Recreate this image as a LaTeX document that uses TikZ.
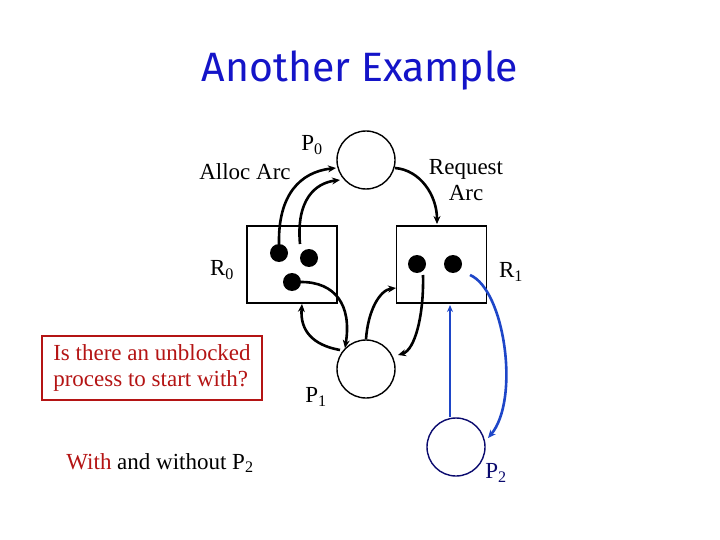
\documentclass[tikz,border=0pt]{standalone}
\usepackage{fontspec}
\setmainfont{Liberation Serif}
\newfontfamily\titlefont{Fira Sans}
\usetikzlibrary{arrows.meta}
\definecolor{tblue}{RGB}{20,20,200}
\definecolor{ablue}{RGB}{30,70,200}
\definecolor{navy}{RGB}{10,10,110}
\definecolor{dred}{RGB}{180,20,20}
\begin{document}
\begin{tikzpicture}[x=1pt,y=-1pt,
  proc/.style={circle,draw,line width=1.4pt,minimum size=58pt,inner sep=0},
  res/.style={draw,line width=1.4pt,minimum width=90pt,minimum height=77pt,inner sep=0},
  dot/.style={circle,fill,minimum size=18pt,inner sep=0},
  arc/.style={line width=2.6pt,-{Stealth[length=8pt,width=7pt]}},
  barc/.style={ablue,line width=2.6pt,-{Stealth[length=8pt,width=7pt]}},
  lbl/.style={font=\fontsize{23}{26}\selectfont,inner sep=0}]
\useasboundingbox (0,0) rectangle (720,540);
\node[font=\titlefont\fontsize{41}{45}\selectfont,text=tblue] (title) at (360,70) {Another Example};
\node[proc] (P0) at (366,160) {};
\node[proc] (P1) at (366,369) {};
\node[proc,draw=navy] (P2) at (456,447) {};
\node[res] (R0) at (292,264.5) {};
\node[res] (R1) at (441.5,264.5) {};
\node[dot] (d1) at (279,253) {};
\node[dot] (d2) at (309,258) {};
\node[dot] (d3) at (292,282) {};
\node[dot] (e1) at (417,264) {};
\node[dot] (e2) at (453,264) {};
\coordinate (a1) at (336,168);
\coordinate (a2) at (340,180);
\coordinate (a3) at (437,224);
\coordinate (a5) at (302,304);
\coordinate (a6) at (396,288);
\coordinate (a7) at (398,355);
\coordinate (b0) at (450,417);
\coordinate (b1) at (450,305);
\coordinate (b2) at (488,438);
\draw[arc] (d1.north) .. controls (278,195) and (300,172) .. (a1);
\draw[arc] (300,244) .. controls (296,200) and (315,183) .. (a2);
\draw[arc] (395,168) .. controls (420,170) and (437,195) .. (a3);
\draw[arc] (d3.east) .. controls (335,282) and (352,305) .. (P1.north west);
\draw[arc] (340,350) .. controls (312,345) and (300,330) .. (a5);
\draw[arc] (P1.north) .. controls (368,310) and (380,290) .. (a6);
\draw[arc] (423,275) .. controls (424,315) and (415,350) .. (a7);
\draw[ablue,line width=1.6pt,-{Stealth[length=7pt,width=6pt]}] (b0) -- (b1);
\draw[barc] (470,275) .. controls (505,290) and (520,400) .. (b2);
\node[lbl] (lp0) at (312,145) {P\textsubscript{0}};
\node[lbl] (lalloc) at (245,172) {Alloc Arc};
\node[lbl,align=center] (lreq) at (466,180) {Request\\Arc};
\node[lbl] (lr0) at (222,270) {R\textsubscript{0}};
\node[lbl] (lr1) at (511,272) {R\textsubscript{1}};
\node[lbl] (lp1) at (316,397) {P\textsubscript{1}};
\node[lbl,text=navy] (lp2) at (496,473) {P\textsubscript{2}};
\node[lbl,draw=dred,line width=1.4pt,text=dred,align=left,minimum width=220pt,minimum height=64pt,inner sep=3pt] (q) at (152,368) {Is there an unblocked\\process to start with?};
\node[lbl] (w) at (160,463) {\textcolor{dred}{With} and without P\textsubscript{2}};
\end{tikzpicture}
\end{document}
